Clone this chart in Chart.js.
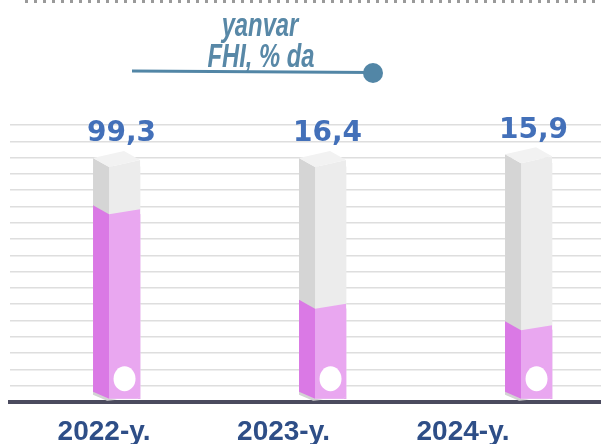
<!DOCTYPE html>
<html>
<head>
<meta charset="utf-8">
<script src="https://cdn.jsdelivr.net/npm/chart.js@4.4.1/dist/chart.umd.min.js"></script>
<style>
  html, body { margin: 0; padding: 0; background: #fff; }
</style>
</head>
<body>
<canvas id="chart" width="601" height="444"></canvas>
<script>
// data
const years = ['2022-y.', '2023-y.', '2024-y.'];
const growth = [99.3, 16.4, 15.9];          // printed values, %
const fillLevel = [78, 38, 29];             // pink fill, % of column height
const columnLevel = [98, 98, 99.5];         // grey column height
const titleLines = ['yanvar', 'FHI, % da'];

const pinkFront = '#e9a7f0', pinkSide = '#da79e5';
const greyFront = '#ececec', greySide = '#d5d5d5', greyTop = '#f2f2f2';

function poly(ctx, pts, color) {
  ctx.beginPath();
  ctx.moveTo(pts[0][0], pts[0][1]);
  for (let i = 1; i < pts.length; i++) ctx.lineTo(pts[i][0], pts[i][1]);
  ctx.closePath();
  ctx.fillStyle = color;
  ctx.fill();
}

// draws the side face, slanted top and cap round each bar element
function prism(ctx, bar, front, side, cap, slant) {
  const xl = bar.x - bar.width / 2, xr = bar.x + bar.width / 2;
  const yt = bar.y, yb = bar.base;
  const dx = 16, dy = 9;
  poly(ctx, [[xl, yt], [xr, yt - slant], [xr, yb - 2], [xr - 3, yb], [xl, yb]], front);
  poly(ctx, [[xl - dx, yt - dy], [xl, yt], [xl, yb], [xl - dx, yb - 7]], side);
  if (cap) {
    poly(ctx, [[xl, yt], [xr, yt - slant], [xr - dx, yt - slant - dy], [xl - dx, yt - dy]], cap);
  }
}

const prismPlugin = {
  id: 'prism',
  afterDatasetsDraw(chart) {
    const ctx = chart.ctx;
    const fillMeta = chart.getDatasetMeta(0);
    const colMeta = chart.getDatasetMeta(1);
    ctx.save();
    colMeta.data.forEach(bar => {
      // floor shadow
      const xl = bar.x - bar.width / 2, yb = bar.base;
      poly(ctx, [[xl - 16, yb - 8], [xl - 16, yb - 4], [xl - 2, yb + 2], [xl + 8, yb + 1], [xl, yb]], '#d3d3d3');
      prism(ctx, bar, greyFront, greySide, greyTop, 7);
    });
    fillMeta.data.forEach(bar => {
      prism(ctx, bar, pinkFront, pinkSide, null, 5);
      ctx.beginPath();
      ctx.ellipse(bar.x, bar.base - 20, 11, 12.5, 0, 0, Math.PI * 2);
      ctx.fillStyle = '#ffffff';
      ctx.fill();
    });
    // value labels
    ctx.font = 'bold 28px "DejaVu Sans", sans-serif';
    ctx.fillStyle = '#4370b9';
    ctx.textAlign = 'center';
    ctx.textBaseline = 'middle';
    colMeta.data.forEach((bar, i) => {
      ctx.fillText(growth[i].toFixed(1).replace('.', ','), bar.x - 3, bar.y - 33);
    });
    ctx.restore();
  }
};

const headerPlugin = {
  id: 'header',
  afterDraw(chart) {
    const ctx = chart.ctx;
    ctx.save();
    // dotted rule at the very top
    ctx.strokeStyle = '#9a9a9a';
    ctx.lineWidth = 3;
    ctx.setLineDash([3, 6]);
    ctx.beginPath();
    ctx.moveTo(25, 1.5);
    ctx.lineTo(601, 1.5);
    ctx.stroke();
    ctx.setLineDash([]);

    // title, condensed italic
    ctx.fillStyle = '#5888a7';
    ctx.font = 'italic bold 34px "Liberation Sans", Arial, sans-serif';
    ctx.textAlign = 'center';
    ctx.textBaseline = 'alphabetic';
    [[titleLines[0], 260, 36], [titleLines[1], 261, 67]].forEach(([t, x, y]) => {
      ctx.save();
      ctx.translate(x, y);
      ctx.scale(0.7, 1);
      ctx.fillText(t, 0, 0);
      ctx.restore();
    });

    // underline with end dot
    ctx.strokeStyle = '#5286a6';
    ctx.lineWidth = 3;
    ctx.beginPath();
    ctx.moveTo(132, 71);
    ctx.lineTo(373, 72.5);
    ctx.stroke();
    ctx.beginPath();
    ctx.arc(373, 73, 10, 0, Math.PI * 2);
    ctx.fillStyle = '#5286a6';
    ctx.fill();
    ctx.restore();
  }
};

new Chart(document.getElementById('chart'), {
  type: 'bar',
  data: {
    datasets: [
      {
        label: 'fill',
        data: fillLevel.map((v, i) => ({ x: i, y: v })),
        backgroundColor: pinkFront,
        xAxisID: 'x',
        yAxisID: 'y'
      },
      {
        label: 'column',
        data: columnLevel.map((v, i) => ({ x: i, y: v })),
        backgroundColor: greyFront,
        xAxisID: 'x',
        yAxisID: 'y'
      }
    ]
  },
  options: {
    responsive: false,
    animation: false,
    devicePixelRatio: 1,
    grouped: false,
    barThickness: 31,
    layout: { padding: { top: 125, left: 10, right: 0, bottom: -18 } },
    plugins: { legend: { display: false }, tooltip: { enabled: false } },
    scales: {
      x: { type: 'linear', display: false, offset: false, min: -0.556, max: 2.313 },
      xl: {
        type: 'linear',
        axis: 'x',
        position: 'bottom',
        offset: false,
        min: -0.524,
        max: 2.769,
        afterBuildTicks: s => { s.ticks = years.map((_, i) => ({ value: i })); },
        ticks: {
          callback: v => years[v],
          font: { family: '"Liberation Sans", Arial, sans-serif', size: 28, weight: 'bold' },
          color: '#2e4e87',
          padding: 13,
          autoSkip: false,
          maxRotation: 0
        },
        grid: { display: false, drawTicks: false, offset: false },
        border: { display: true, color: '#4b4b5e', width: 4 }
      },
      y: {
        min: -1.53,
        max: 115.7,
        ticks: { display: false },
        afterBuildTicks: s => {
          const t = [];
          for (let k = 0; k <= 16; k++) t.push({ value: 115.7 - k * 6.886 });
          s.ticks = t;
        },
        grid: { color: '#dedede', lineWidth: 1.5, drawTicks: false },
        border: { display: false }
      }
    }
  },
  plugins: [prismPlugin, headerPlugin]
});
</script>
</body>
</html>
